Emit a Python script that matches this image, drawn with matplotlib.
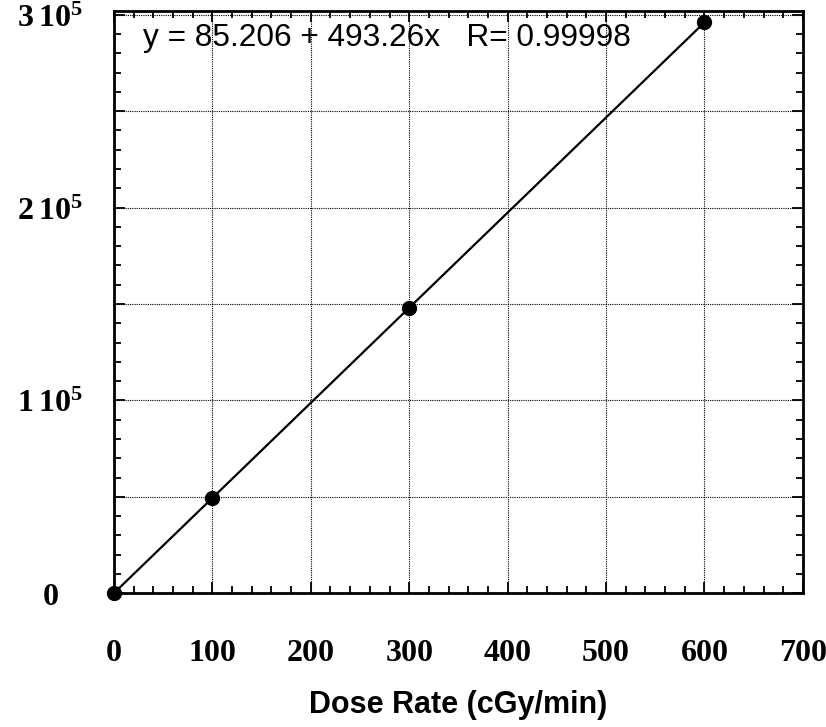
import matplotlib
matplotlib.use("Agg")
import matplotlib.pyplot as plt
from matplotlib.ticker import MultipleLocator, FuncFormatter
import numpy as np

dose_rate = [0, 100, 300, 600]
signal = [0, 49400, 148100, 296000]

# fit shown in the chart text
intercept = 85.206
slope = 493.26
r_value = 0.99998

x_ticks = [0, 100, 200, 300, 400, 500, 600, 700]
y_label_values = {0: '0', 100000: '1', 200000: '2', 300000: '3'}

plt.rcParams['mathtext.fontset'] = 'custom'
plt.rcParams['mathtext.rm'] = 'Liberation Serif'
plt.rcParams['mathtext.bf'] = 'Liberation Serif:bold'

fig = plt.figure(figsize=(8.26, 7.27), dpi=100)
ax = fig.add_axes([0.138, 0.184, 0.834, 0.801])

# fitted line
xs = np.array([dose_rate[0], dose_rate[-1]])
ax.plot(xs, intercept + slope * xs, color='black', lw=1.6, zorder=3)
ax.plot(dose_rate, signal, 'o', color='black', ms=10, zorder=4, clip_on=False)

ax.set_xlim(0, 700)
ax.set_ylim(0, 302000)

ax.set_xticks(x_ticks)
ax.xaxis.set_minor_locator(MultipleLocator(20))
ax.yaxis.set_major_locator(MultipleLocator(50000))
ax.yaxis.set_minor_locator(MultipleLocator(10000))

def ylab(v, pos):
    v = int(round(v))
    if v == 0:
        return r'$\mathbf{0}$'
    if v in y_label_values:
        return r'$\mathbf{' + y_label_values[v] + r'\,10^{5}}$'
    return ''

ax.yaxis.set_major_formatter(FuncFormatter(ylab))

ax.grid(True, which='major', linestyle=(0, (1, 1)), color='black', lw=0.8)
ax.tick_params(which='both', direction='in', top=True, right=True, width=1.3)
ax.tick_params(which='major', length=8)
ax.tick_params(which='minor', length=5)
ax.tick_params(axis='x', which='major', pad=33)
ax.tick_params(axis='y', which='major', pad=46)
for lab in ax.get_xticklabels():
    lab.set_fontfamily('Liberation Serif')
    lab.set_fontweight('bold')
    lab.set_fontsize(23)
for lab in ax.get_yticklabels():
    lab.set_fontsize(23)
    lab.set_horizontalalignment('center')

for sp in ax.spines.values():
    sp.set_linewidth(2)

ax.set_xlabel('Dose Rate (cGy/min)', fontfamily='Liberation Sans',
              fontweight='bold', fontsize=22, labelpad=16)

ax.text(0.042, 0.954, 'y = %.3f + %.2fx   R= %.5f' % (intercept, slope, r_value),
        transform=ax.transAxes, fontfamily='Liberation Sans', fontsize=22.8,
        va='center', ha='left')

fig.savefig('out.png', dpi=100)
